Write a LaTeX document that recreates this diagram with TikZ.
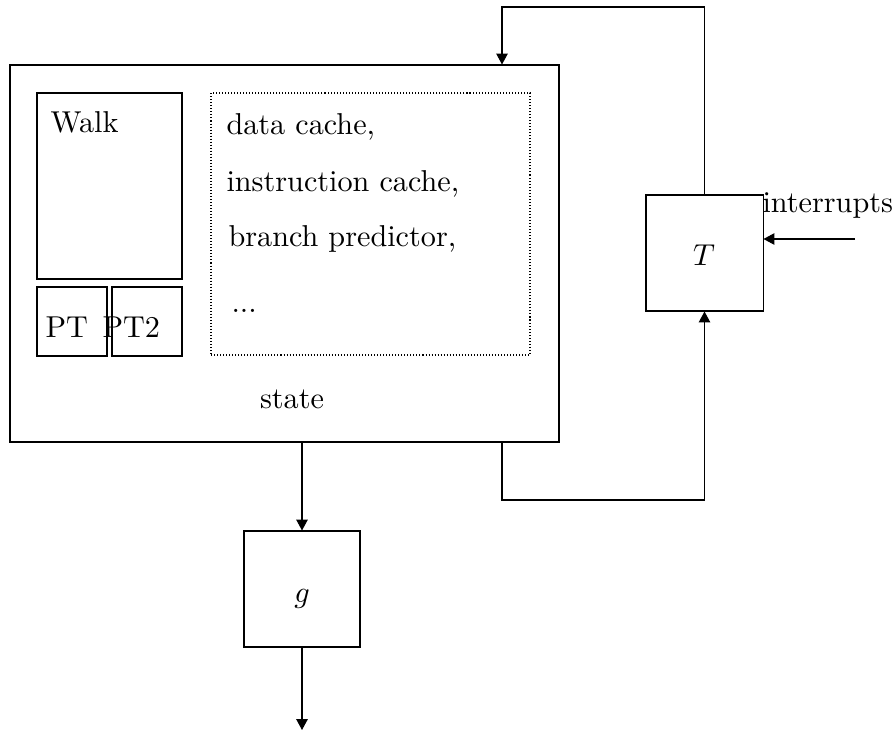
\documentclass[tikz,border=0pt]{standalone}
\usetikzlibrary{arrows.meta,fit}
\begin{document}
\begin{tikzpicture}[x={(0.331pt,0)},y={(0,-0.331pt)},line width=0.34pt,
  box/.style={draw,inner sep=0pt},
  dotbox/.style={draw,dash pattern=on 0.34pt off 0.66pt,inner sep=0pt},
  lbl/.style={inner sep=0pt,anchor=base west},
  arr/.style={-{Triangle[length=3.6pt,width=3.8pt]}}]
\useasboundingbox (0,0) rectangle (896,733);
% boxes
\node[box,fit={(10,65) (559,442)}] (state) {};
\node[box,fit={(37,93) (182,279)}] (walk) {};
\node[box,fit={(37,287) (107,356)}] (pt) {};
\node[box,fit={(112,287) (182,356)}] (pt2) {};
\node[dotbox,fit={(211,93) (530,355)}] (caches) {};
\node[box,fit={(646,195) (763,311)}] (T) {};
\node[box,fit={(244,531) (360,647)}] (g) {};
% labels
\node[lbl] (walklbl) at (50,133) {Walk};
\node[lbl] (ptlbl) at (45,337) {PT};
\node[lbl] (pt2lbl) at (102,337) {PT2};
\node[lbl] (dc) at (226,135) {data cache,};
\node[lbl] (ic) at (226,192) {instruction cache,};
\node[lbl] (bp) at (228,247) {branch predictor,};
\node[lbl] (dots) at (231,312) {...};
\node[inner sep=0pt,anchor=base] (statelbl) at (292,408) {state};
\node[inner sep=0pt,anchor=base] (Tlbl) at (704,265) {$T$};
\node[inner sep=0pt,anchor=base] (glbl) at (302,602) {$g$};
\node[lbl] (irqlbl) at (762,213) {interrupts};
% connectors
\coordinate (fbtop) at (502,7);
\coordinate (fbbot) at (502,500);
\coordinate (out) at (302,730);
\coordinate (irq) at (855,239);
\draw[arr] (T.north) |- (fbtop) -- (state.north -| fbtop);
\draw[arr] (state.south -| fbbot) -- (fbbot) -| (T.south);
\draw[arr] (g.north |- state.south) -- (g.north);
\draw[arr] (g.south) -- (out);
\draw[arr] (irq) -- (irq -| T.east);
\end{tikzpicture}
\end{document}
